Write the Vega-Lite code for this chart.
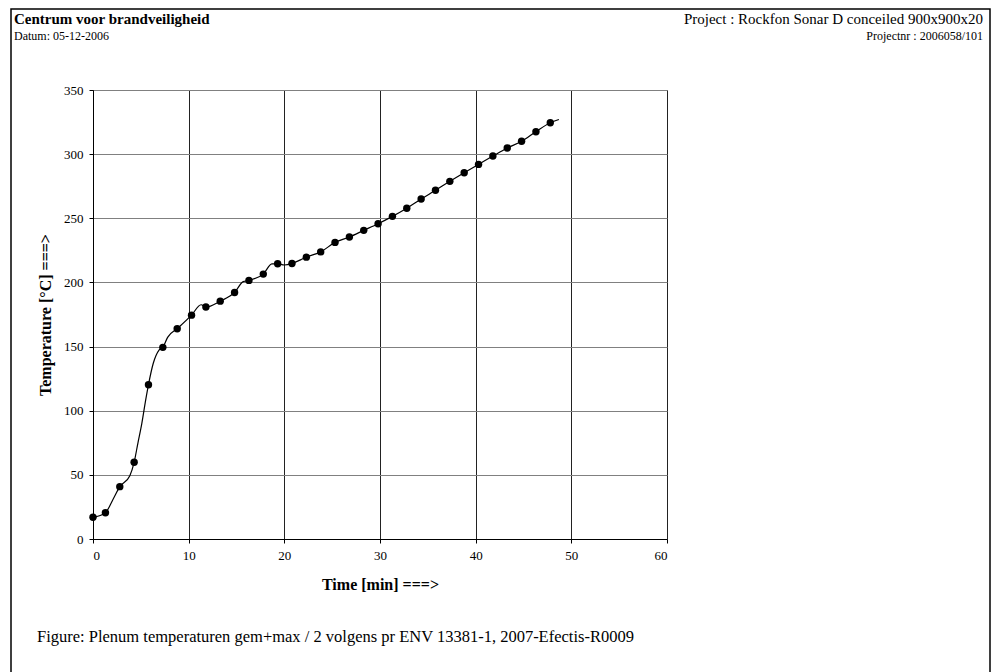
{
  "$schema": "https://vega.github.io/schema/vega-lite/v6.json",
  "width": 574,
  "height": 449,
  "autosize": {"type": "none"},
  "padding": {"left": 93, "top": 90, "right": 327, "bottom": 133},
  "background": "white",
  "config": {
    "font": "Liberation Serif",
    "view": {"stroke": "#808080", "strokeWidth": 1}
  },
  "datasets": {
    "markers": [
      {"t": 0, "T": 16.9}, {"t": 1.3, "T": 20.5}, {"t": 2.8, "T": 40.8}, {"t": 4.3, "T": 59.8},
      {"t": 5.8, "T": 120.3}, {"t": 7.3, "T": 149.4}, {"t": 8.8, "T": 163.9}, {"t": 10.3, "T": 174.5},
      {"t": 11.8, "T": 180.8}, {"t": 13.3, "T": 185.4}, {"t": 14.8, "T": 192.2}, {"t": 16.3, "T": 201.6},
      {"t": 17.8, "T": 206.5}, {"t": 19.3, "T": 214.5}, {"t": 20.8, "T": 214.8}, {"t": 22.3, "T": 219.7},
      {"t": 23.8, "T": 223.8}, {"t": 25.3, "T": 231.2}, {"t": 26.8, "T": 235.4}, {"t": 28.3, "T": 240.6},
      {"t": 29.8, "T": 245.8}, {"t": 31.3, "T": 251.5}, {"t": 32.8, "T": 257.8}, {"t": 34.3, "T": 265.0},
      {"t": 35.8, "T": 271.8}, {"t": 37.3, "T": 278.8}, {"t": 38.8, "T": 285.5}, {"t": 40.3, "T": 292.0},
      {"t": 41.8, "T": 298.5}, {"t": 43.3, "T": 304.8}, {"t": 44.8, "T": 310.0}, {"t": 46.3, "T": 317.5},
      {"t": 47.8, "T": 324.5}
    ],
    "curve": [
      {"t": 0, "T": 16.9}, {"t": 1.3, "T": 20.5}, {"t": 2.1, "T": 31}, {"t": 2.8, "T": 40.8},
      {"t": 3.85, "T": 49.4}, {"t": 4.3, "T": 59.8}, {"t": 4.7, "T": 75}, {"t": 5.1, "T": 90},
      {"t": 5.5, "T": 108}, {"t": 5.8, "T": 120.3}, {"t": 6.3, "T": 137}, {"t": 6.9, "T": 147.3},
      {"t": 7.3, "T": 149.4}, {"t": 7.8, "T": 157.2}, {"t": 8.8, "T": 163.9}, {"t": 10.3, "T": 174.5},
      {"t": 11.3, "T": 182.6}, {"t": 11.8, "T": 180.8}, {"t": 13.3, "T": 185.4}, {"t": 14.8, "T": 192.2},
      {"t": 15.7, "T": 200.6}, {"t": 16.3, "T": 201.6}, {"t": 17.8, "T": 206.5}, {"t": 18.7, "T": 214.4},
      {"t": 19.3, "T": 214.5}, {"t": 20.0, "T": 213.6}, {"t": 20.8, "T": 214.8}, {"t": 21.7, "T": 217.6},
      {"t": 22.3, "T": 219.7}, {"t": 23.8, "T": 223.8}, {"t": 25.3, "T": 231.2}, {"t": 26.8, "T": 235.4},
      {"t": 28.3, "T": 240.6}, {"t": 29.8, "T": 245.8}, {"t": 31.3, "T": 251.5}, {"t": 32.8, "T": 257.8},
      {"t": 34.3, "T": 265.0}, {"t": 35.8, "T": 271.8}, {"t": 37.3, "T": 278.8}, {"t": 38.8, "T": 285.5},
      {"t": 40.3, "T": 292.0}, {"t": 41.8, "T": 298.5}, {"t": 43.3, "T": 304.8}, {"t": 44.8, "T": 310.0},
      {"t": 46.3, "T": 317.5}, {"t": 47.8, "T": 324.5}, {"t": 48.7, "T": 327.0}
    ],
    "notes": [
      {"label": "frame"}
    ]
  },
  "layer": [
    {
      "data": {"name": "notes"},
      "mark": {"type": "rect", "fill": null, "stroke": "black", "strokeWidth": 1.5, "clip": false},
      "encoding": {
        "x": {"value": -82},
        "x2": {"value": 897},
        "y": {"value": -81},
        "y2": {"value": 600}
      }
    },
    {
      "data": {"name": "curve"},
      "mark": {"type": "line", "color": "black", "strokeWidth": 1.2, "interpolate": "monotone"},
      "encoding": {
        "x": {
          "field": "t", "type": "quantitative",
          "scale": {"domain": [0, 60], "nice": false},
          "axis": {
            "values": [0, 10, 20, 30, 40, 50, 60],
            "title": "Time [min] ===>",
            "titleFont": "Liberation Serif", "titleFontSize": 16, "titleFontWeight": "bold", "titleColor": "black",
            "titlePadding": 14,
            "labelFont": "Liberation Serif", "labelFontSize": 13, "labelColor": "black", "labelPadding": 6,
            "domainColor": "black", "tickColor": "black", "tickSize": 4,
            "grid": true, "gridColor": "#222222", "gridWidth": 1
          }
        },
        "y": {
          "field": "T", "type": "quantitative",
          "scale": {"domain": [0, 350], "nice": false},
          "axis": {
            "values": [0, 50, 100, 150, 200, 250, 300, 350],
            "title": "Temperature [°C] ===>",
            "titleFont": "Liberation Serif", "titleFontSize": 16, "titleFontWeight": "bold", "titleColor": "black",
            "titlePadding": 10,
            "labelFont": "Liberation Serif", "labelFontSize": 13, "labelColor": "black", "labelPadding": 6,
            "domainColor": "black", "tickColor": "black", "tickSize": 4,
            "grid": true, "gridColor": "#808080", "gridWidth": 1
          }
        }
      }
    },
    {
      "data": {"name": "markers"},
      "mark": {"type": "point", "filled": true, "color": "black", "size": 55, "opacity": 1},
      "encoding": {
        "x": {"field": "t", "type": "quantitative"},
        "y": {"field": "T", "type": "quantitative"}
      }
    },
    {
      "data": {"values": [{"txt": "Centrum voor brandveiligheid"}]},
      "mark": {"type": "text", "align": "left", "baseline": "alphabetic", "font": "Liberation Serif", "fontSize": 15, "fontWeight": "bold", "color": "black"},
      "encoding": {"x": {"value": -79}, "y": {"value": -66}, "text": {"field": "txt"}}
    },
    {
      "data": {"values": [{"txt": "Datum: 05-12-2006"}]},
      "mark": {"type": "text", "align": "left", "baseline": "alphabetic", "font": "Liberation Serif", "fontSize": 12, "color": "black"},
      "encoding": {"x": {"value": -79}, "y": {"value": -50}, "text": {"field": "txt"}}
    },
    {
      "data": {"values": [{"txt": "Project : Rockfon Sonar D conceiled 900x900x20"}]},
      "mark": {"type": "text", "align": "right", "baseline": "alphabetic", "font": "Liberation Serif", "fontSize": 15, "color": "black"},
      "encoding": {"x": {"value": 890}, "y": {"value": -66}, "text": {"field": "txt"}}
    },
    {
      "data": {"values": [{"txt": "Projectnr : 2006058/101"}]},
      "mark": {"type": "text", "align": "right", "baseline": "alphabetic", "font": "Liberation Serif", "fontSize": 12, "color": "black"},
      "encoding": {"x": {"value": 890}, "y": {"value": -50}, "text": {"field": "txt"}}
    },
    {
      "data": {"values": [{"txt": "Figure: Plenum temperaturen gem+max / 2 volgens pr ENV 13381-1, 2007-Efectis-R0009"}]},
      "mark": {"type": "text", "align": "left", "baseline": "alphabetic", "font": "Liberation Serif", "fontSize": 16.5, "color": "black"},
      "encoding": {"x": {"value": -56}, "y": {"value": 552}, "text": {"field": "txt"}}
    }
  ]
}
